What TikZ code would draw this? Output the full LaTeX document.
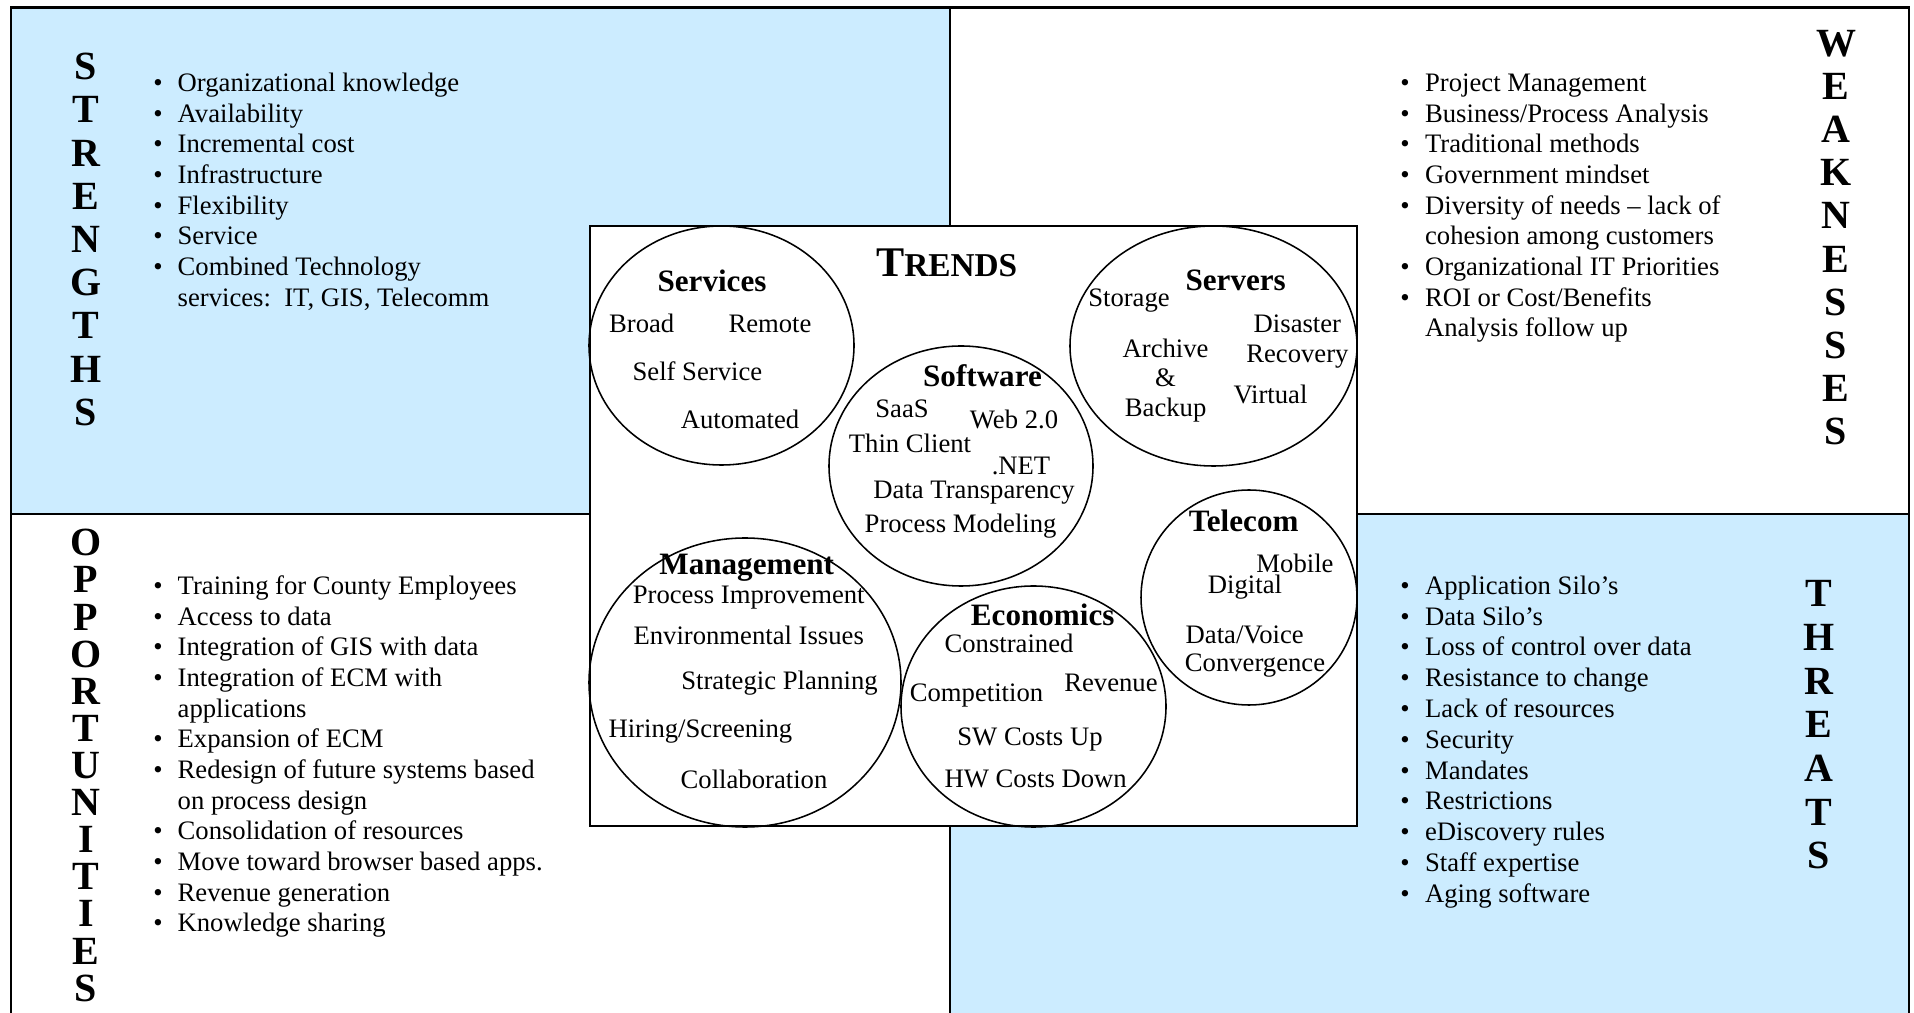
\documentclass[tikz,border=0pt]{standalone}
\usepackage{fontspec}
\setmainfont{Liberation Serif}
\usetikzlibrary{shapes.geometric}
\definecolor{swotblue}{RGB}{204,236,255}
\begin{document}
\begin{tikzpicture}[x=0.45pt,y=-0.45pt,
  lst/.style={anchor=base west, inner sep=0pt, font=\fontsize{12}{13.8}\selectfont},
  letters/.style={inner sep=0pt, align=center},
  trend/.style={draw, line width=0.7pt, ellipse, inner sep=0pt},
  ttl/.style={inner sep=0pt, font=\bfseries\fontsize{14}{16}\selectfont},
  itm/.style={inner sep=0pt, font=\fontsize{12}{14}\selectfont},
  frameline/.style={line width=1.1pt},
]
\useasboundingbox (0,0) rectangle (1914,1013);
% quadrants
\fill[swotblue] (11,7.5) rectangle (950,514);
\fill[swotblue] (950,514) rectangle (1909,1013);
\draw[frameline] (11,1013) -- (11,7.5) -- (1909,7.5) -- (1909,1013);
\draw[frameline] (950,7.5) -- (950,1013);
\draw[frameline] (11,514) -- (1909,514);

% SWOT letters
\node[letters, font=\bfseries\fontsize{18}{19.44}\selectfont] (sword) at (86,239.5) {S\\T\\R\\E\\N\\G\\T\\H\\S};
\node[letters, font=\bfseries\fontsize{18}{19.44}\selectfont] (wword) at (1836,237.7) {W\\E\\A\\K\\N\\E\\S\\S\\E\\S};
\node[letters, font=\bfseries\fontsize{18}{16.7}\selectfont] (oword) at (86,765.5) {O\\P\\P\\O\\R\\T\\U\\N\\I\\T\\I\\E\\S};
\node[letters, font=\bfseries\fontsize{18}{19.66}\selectfont] (tword) at (1819,725) {T\\H\\R\\E\\A\\T\\S};

% lists
\node[lst] (slist) at (153,91.5) {\begin{tabular}[t]{@{}l@{\hspace{6.7pt}}l@{}}
\textbullet & Organizational knowledge\\
\textbullet & Availability\\
\textbullet & Incremental cost\\
\textbullet & Infrastructure\\
\textbullet & Flexibility\\
\textbullet & Service\\
\textbullet & Combined Technology\\
 & services:\ \ IT, GIS, Telecomm
\end{tabular}};
\node[lst] (wlist) at (1400,91.5) {\begin{tabular}[t]{@{}l@{\hspace{6.9pt}}l@{}}
\textbullet & Project Management\\
\textbullet & Business/Process Analysis\\
\textbullet & Traditional methods\\
\textbullet & Government mindset\\
\textbullet & Diversity of needs – lack of\\
 & cohesion among customers\\
\textbullet & Organizational IT Priorities\\
\textbullet & ROI or Cost/Benefits\\
 & Analysis follow up
\end{tabular}};
\node[lst] (olist) at (153,594.4) {\begin{tabular}[t]{@{}l@{\hspace{6.7pt}}l@{}}
\textbullet & Training for County Employees\\
\textbullet & Access to data\\
\textbullet & Integration of GIS with data\\
\textbullet & Integration of ECM with\\
 & applications\\
\textbullet & Expansion of ECM\\
\textbullet & Redesign of future systems based\\
 & on process design\\
\textbullet & Consolidation of resources\\
\textbullet & Move toward browser based apps.\\
\textbullet & Revenue generation\\
\textbullet & Knowledge sharing
\end{tabular}};
\node[lst, font=\fontsize{12}{13.86}\selectfont] (tlist) at (1400,594.4) {\begin{tabular}[t]{@{}l@{\hspace{6.9pt}}l@{}}
\textbullet & Application Silo’s\\
\textbullet & Data Silo’s\\
\textbullet & Loss of control over data\\
\textbullet & Resistance to change\\
\textbullet & Lack of resources\\
\textbullet & Security\\
\textbullet & Mandates\\
\textbullet & Restrictions\\
\textbullet & eDiscovery rules\\
\textbullet & Staff expertise\\
\textbullet & Aging software
\end{tabular}};

% trends box
\node[draw, fill=white, line width=0.9pt, inner sep=0pt, minimum width=345.15pt, minimum height=270pt] (trendsbox) at (973.5,526) {};
\node[inner sep=0pt, font=\bfseries] (trendsT) at (946.7,263) {{\fontsize{19}{22}\selectfont T}{\fontsize{15}{18}\selectfont RENDS}};

% circles
\node[trend, minimum width=119.25pt, minimum height=107.55pt] (services) at (721.5,345.5) {};
\node[trend, minimum width=118.8pt, minimum height=108pt] (software) at (961,466) {};
\node[trend, minimum width=129.15pt, minimum height=108pt] (servers) at (1213.5,346) {};
\node[trend, minimum width=97.2pt, minimum height=96.75pt] (telecom) at (1249,597.5) {};
\node[trend, minimum width=140.4pt, minimum height=130.05pt] (management) at (745,682.5) {};
\node[trend, minimum width=119.25pt, minimum height=108.45pt] (economics) at (1033.5,706.5) {};

% Services
\node[ttl] (servicesT) at (712,281) {Services};
\node[itm] (broad) at (641.7,323.6) {Broad};
\node[itm] (remote) at (770,323.6) {Remote};
\node[itm] (selfservice) at (697.4,371.4) {Self Service};
\node[itm] (automated) at (740,419.6) {Automated};
% Software
\node[ttl] (softwareT) at (982.5,376) {Software};
\node[itm] (saas) at (902,409) {SaaS};
\node[itm] (web) at (1014,419.6) {Web 2.0};
\node[itm] (thin) at (910,443.3) {Thin Client};
\node[itm] (net) at (1021,466) {.NET};
\node[itm] (datatr) at (974,493) {Data Transparency};
\node[itm] (procmod) at (960.6,526.3) {Process Modeling};
% Servers
\node[ttl] (serversT) at (1235.7,280) {Servers};
\node[itm] (storage) at (1129,301) {Storage};
\node[itm] (disaster) at (1297.4,323.6) {Disaster};
\node[itm] (archive) at (1165.6,348.5) {Archive};
\node[itm] (recovery) at (1297.4,356.4) {Recovery};
\node[itm] (amp) at (1165.6,378) {\&};
\node[itm] (virtual) at (1270.5,394.7) {Virtual};
\node[itm] (backup) at (1165.6,409.7) {Backup};
% Telecom
\node[ttl] (telecomT) at (1243.7,520.4) {Telecom};
\node[itm] (mobile) at (1295,563) {Mobile};
\node[itm] (digital) at (1245,587.6) {Digital};
\node[itm] (datavoice) at (1244.7,635) {Data/Voice};
\node[itm] (convergence) at (1255,665.8) {Convergence};
% Management
\node[ttl] (managementT) at (746.7,567.8) {Management};
\node[itm] (procimp) at (748.7,597.5) {Process Improvement};
\node[itm] (envir) at (748.7,635.8) {Environmental Issues};
\node[itm] (strat) at (779.5,683) {Strategic Planning};
\node[itm] (hiring) at (700.4,732) {Hiring/Screening};
\node[itm] (collab) at (754,779) {Collaboration};
% Economics
\node[ttl] (economicsT) at (1042.7,614.5) {Economics};
\node[itm] (constrained) at (1009,643.7) {Constrained};
\node[itm] (revenue) at (1111,683) {Revenue};
\node[itm] (competition) at (976.5,696) {Competition};
\node[itm] (swcosts) at (1030,739.8) {SW Costs Up};
\node[itm] (hwcosts) at (1035.7,779) {HW Costs Down};
\end{tikzpicture}
\end{document}
